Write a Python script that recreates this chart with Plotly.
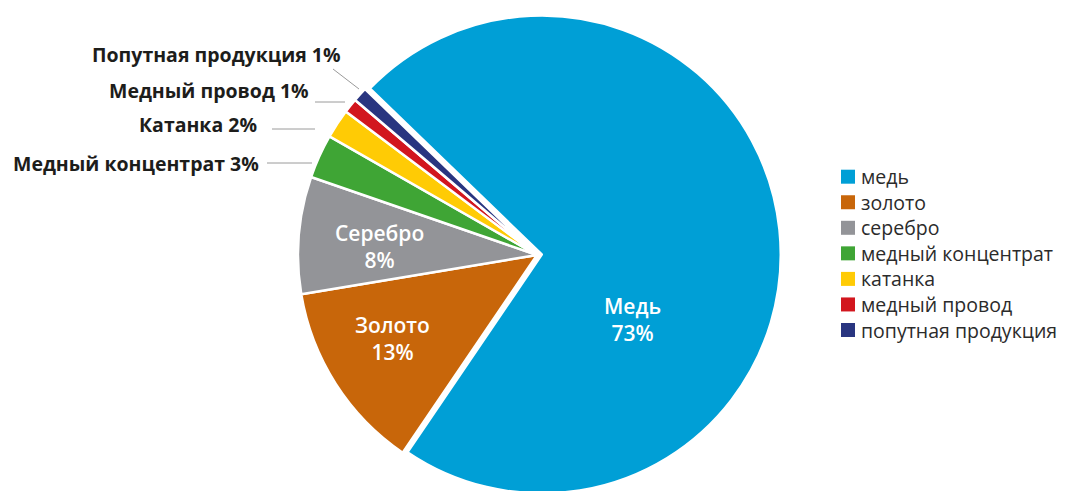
import math
import plotly.graph_objects as go

# ---- data -------------------------------------------------------------
categories = ["медь", "золото", "серебро", "медный концентрат",
              "катанка", "медный провод", "попутная продукция"]
slice_titles = ["Медь", "Золото", "Серебро", "Медный концентрат",
                "Катанка", "Медный провод", "Попутная продукция"]
shares = [73, 13, 8, 3, 2, 1, 1]
colors = ["#009FD6", "#C8660A", "#939498", "#3FA535",
          "#FFCB05", "#D2161E", "#293580"]

# ---- canvas / pie geometry (pixels) -----------------------------------
W, H = 1071, 520
CX, CY, R = 537, 255, 239
PULL = 0.02
ROTATION = -46

FONT = "Open Sans"


def px(x, y):
    """pixel position -> paper coordinates"""
    return x / W, 1 - y / H


half = R * (1 + PULL)
dom_x = [(CX - half) / W, (CX + half) / W]
dom_y = [1 - (CY + half) / H, 1 - (CY - half) / H]

pulls = [PULL if i == 0 else 0 for i in range(len(shares))]

fig = go.Figure(go.Pie(
    labels=categories,
    values=shares,
    sort=False,
    direction="clockwise",
    rotation=ROTATION,
    pull=pulls,
    domain=dict(x=dom_x, y=dom_y),
    marker=dict(colors=colors, line=dict(color="white", width=2.5)),
    textinfo="none",
    hoverinfo="label+percent",
    showlegend=False,
))

annotations = []
shapes = []

# ---- labels inside the three large slices ------------------------------
# polar placement (degrees clockwise from 12 o'clock, fraction of radius)
inside_spots = {0: (124, 0.48), 1: (240, 0.70), 2: (273, 0.66)}
for i, (ang, frac) in inside_spots.items():
    a = math.radians(ang)
    x = CX + frac * R * math.sin(a)
    y = CY - frac * R * math.cos(a)
    xp, yp = px(x, y)
    annotations.append(dict(
        x=xp, y=yp, xref="paper", yref="paper", showarrow=False,
        text=f"{slice_titles[i]}<br>{shares[i]}%",
        font=dict(family=FONT, size=21, color="white", weight=600),
        xanchor="center", yanchor="middle", align="center",
    ))

# ---- callout labels for the small slices -------------------------------
# (text right edge x, text centre y, leader line x0, y0, x1, y1)
callouts = {
    3: (261, 163, 267, 163, 312, 163),
    4: (259, 124, 272, 129, 315, 129),
    5: (311, 90, 315, 102, 345, 102),
    6: (343, 55, 333, 69, 359, 89),
}
for i, (tx, ty, x0, y0, x1, y1) in callouts.items():
    xp, yp = px(tx, ty)
    annotations.append(dict(
        x=xp, y=yp, xref="paper", yref="paper", showarrow=False,
        text=f"{slice_titles[i]} {shares[i]}%",
        font=dict(family=FONT, size=19.5, color="#1d1d1b", weight=700),
        xanchor="right", yanchor="middle",
    ))
    a0, b0 = px(x0, y0)
    a1, b1 = px(x1, y1)
    shapes.append(dict(type="line", xref="paper", yref="paper",
                       x0=a0, y0=b0, x1=a1, y1=b1,
                       line=dict(color="#9a9a9a", width=1)))

# ---- key: colour squares with category names ---------------------------
KEY_X, KEY_Y0, KEY_STEP, KEY_SQ = 841, 176.7, 25.55, 14
for i, name in enumerate(categories):
    yc = KEY_Y0 + i * KEY_STEP
    a0, b0 = px(KEY_X, yc - KEY_SQ / 2)
    a1, b1 = px(KEY_X + KEY_SQ, yc + KEY_SQ / 2)
    shapes.append(dict(type="rect", xref="paper", yref="paper",
                       x0=a0, y0=b0, x1=a1, y1=b1,
                       fillcolor=colors[i], line=dict(width=0)))
    tx, ty = px(KEY_X + KEY_SQ + 5, yc)
    annotations.append(dict(
        x=tx, y=ty, xref="paper", yref="paper", showarrow=False,
        text=name, font=dict(family=FONT, size=19.5, color="#2b2b2b"),
        xanchor="left", yanchor="middle", borderpad=0,
    ))

fig.update_layout(
    width=W, height=H,
    margin=dict(l=0, r=0, t=0, b=0),
    paper_bgcolor="white", plot_bgcolor="white",
    font=dict(family=FONT, color="#2b2b2b"),
    annotations=annotations,
    shapes=shapes,
    showlegend=False,
)

fig.write_html(
    "out.html",
    config={"displayModeBar": False},
    post_script=("document.body.style.margin='0';"
                 "document.body.style.overflow='hidden';"
                 "document.documentElement.style.overflow='hidden';"),
)
